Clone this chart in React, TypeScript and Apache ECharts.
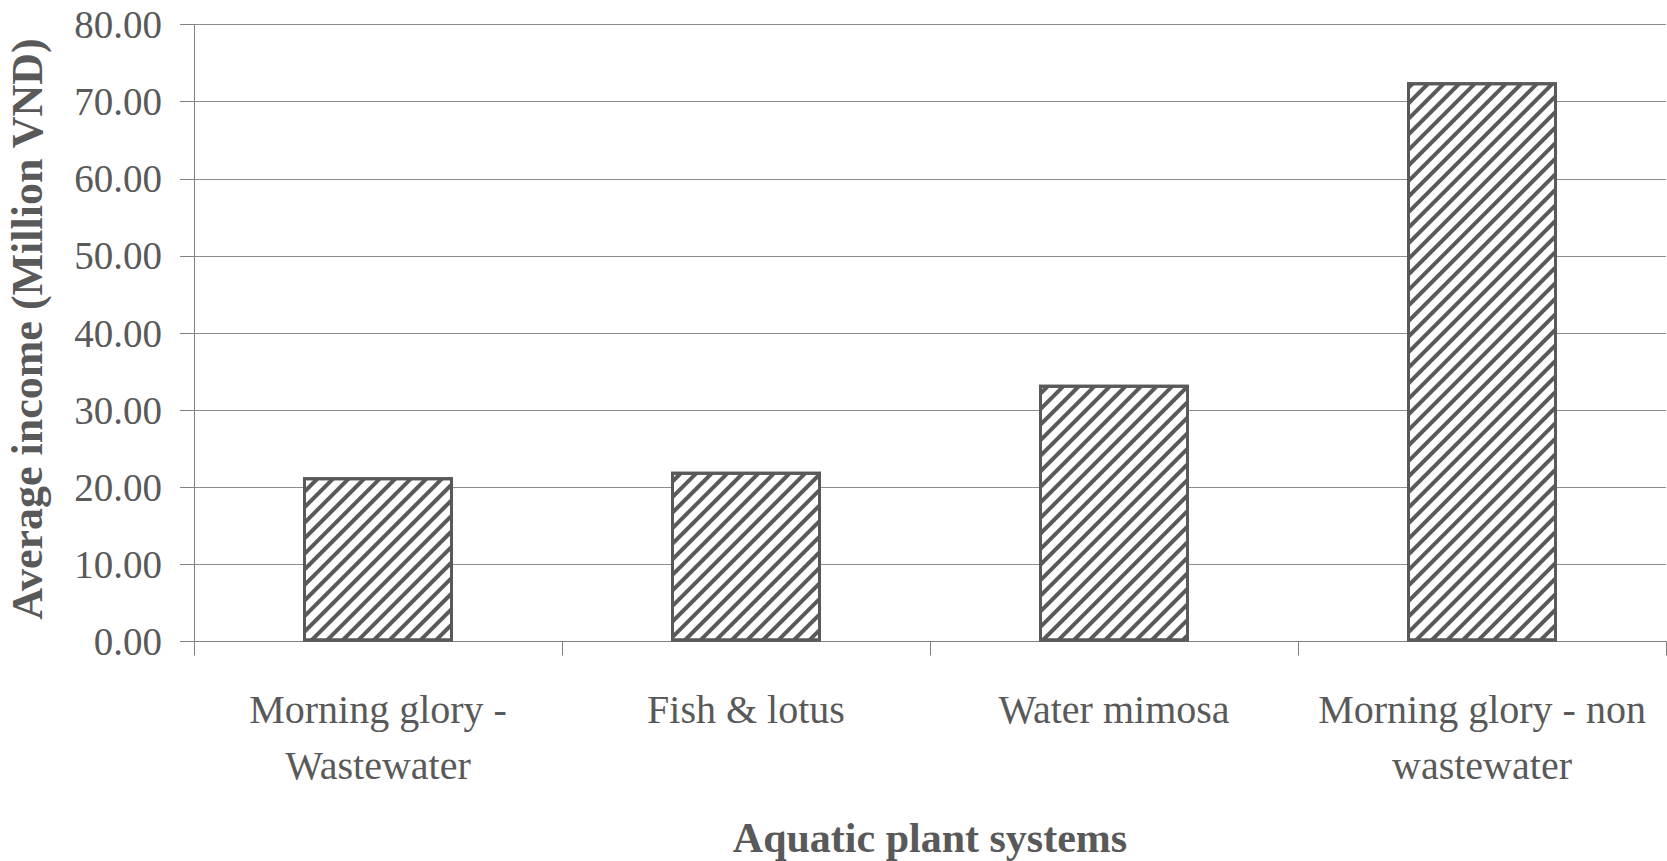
import React, { useEffect, useRef } from "react";
import * as echarts from "echarts";

const categories = [
  "Morning glory -\nWastewater",
  "Fish & lotus",
  "Water mimosa",
  "Morning glory - non\nwastewater",
];
const incomeValues = [21.3, 22.0, 33.3, 72.5];
const yTicks = { min: 0, max: 80, interval: 10 };
const xAxisTitle = "Aquatic plant systems";
const yAxisTitle = "Average income (Million VND)";

const TEXT = "#595959";
const FONT = "'Liberation Serif', 'Times New Roman', serif";

export default function App() {
  const ref = useRef<HTMLDivElement>(null);
  useEffect(() => {
    if (!ref.current) return;
    const chart = echarts.init(ref.current, undefined, { renderer: "svg" });
    chart.setOption({
      animation: false,
      backgroundColor: "#ffffff",
      grid: {
        left: 194,
        right: 1,
        top: 24.5,
        bottom: 219.5,
        containLabel: false,
        outerBoundsMode: "none",
      },
      xAxis: {
        type: "category",
        data: categories,
        name: xAxisTitle,
        nameLocation: "middle",
        nameGap: 175,
        nameTextStyle: { color: TEXT, fontFamily: FONT, fontSize: 42, fontWeight: "bold" },
        axisLine: { show: true, lineStyle: { color: "#808080", width: 1 } },
        axisTick: { show: true, length: 14, alignWithLabel: false, lineStyle: { color: "#808080" } },
        axisLabel: {
          color: TEXT,
          fontFamily: FONT,
          fontSize: 40,
          lineHeight: 56,
          margin: 40,
          interval: 0,
          verticalAlign: "top",
        },
      },
      yAxis: {
        type: "value",
        min: yTicks.min,
        max: yTicks.max,
        interval: yTicks.interval,
        name: yAxisTitle,
        nameLocation: "middle",
        nameRotate: 90,
        nameGap: 145,
        nameTextStyle: {
          color: TEXT,
          fontFamily: FONT,
          fontSize: 44,
          fontWeight: "bold",
          padding: [0, 0, 0, 8],
        },
        axisLine: { show: true, lineStyle: { color: "#808080", width: 1 } },
        axisTick: { show: true, length: 14, lineStyle: { color: "#808080" } },
        axisLabel: {
          color: TEXT,
          fontFamily: FONT,
          fontSize: 39,
          margin: 32,
          formatter: (v: number) => v.toFixed(2),
        },
        splitLine: { show: true, lineStyle: { color: "#8c8c8c", width: 1 } },
      },
      series: [
        {
          type: "bar",
          data: incomeValues,
          barWidth: 150,
          itemStyle: {
            color: "#ffffff",
            borderColor: "#595959",
            borderWidth: 3,
            decal: {
              symbol: "rect",
              symbolSize: 1,
              color: "#595959",
              dashArrayX: [1, 0],
              dashArrayY: [4, 6.6],
              rotation: -Math.PI / 4,
            },
          },
        },
      ],
    });
    return () => chart.dispose();
  }, []);
  return (
    <div
      ref={ref}
      style={{ position: "fixed", left: 0, top: 0, width: 1667, height: 861, background: "#fff" }}
    />
  );
}
